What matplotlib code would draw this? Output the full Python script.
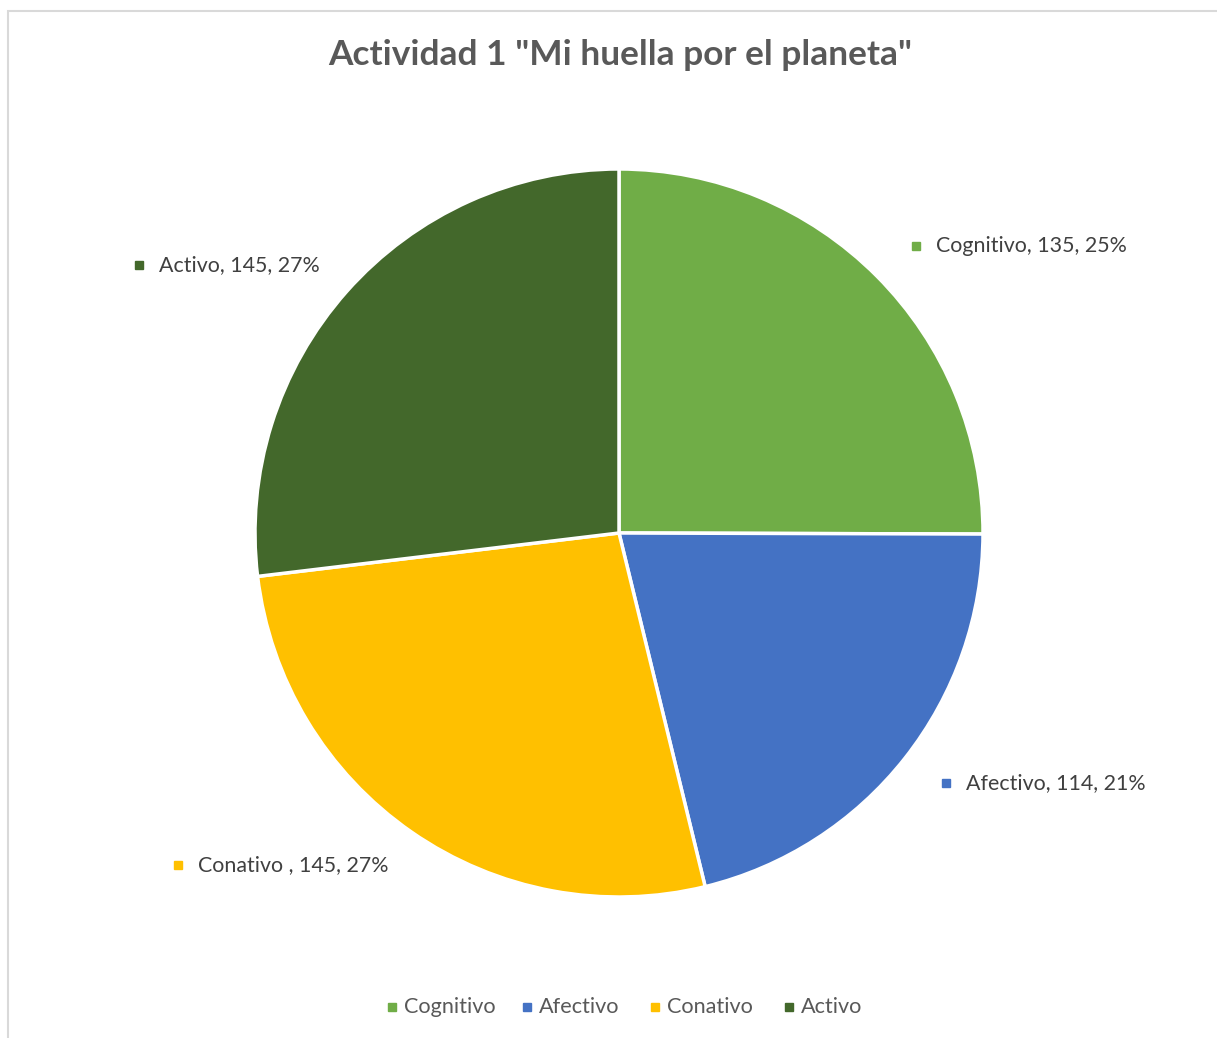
import matplotlib
matplotlib.use("Agg")
import matplotlib.pyplot as plt
from matplotlib.patches import Rectangle

categories = ["Cognitivo", "Afectivo", "Conativo", "Activo"]
label_names = ["Cognitivo", "Afectivo", "Conativo ", "Activo"]
values = [135, 114, 145, 145]
colors = ["#70AD47", "#4472C4", "#FFC000", "#43682B"]
title = 'Actividad 1 "Mi huella por el planeta"'

W, H = 1217, 1038
fig = plt.figure(figsize=(W / 100, H / 100), dpi=100)
plt.rcParams['font.family'] = ['Lato', 'DejaVu Sans']

def fx(px):
    return px / W

def fy(py):
    return 1 - py / H

# chart border (left and top visible)
fig.patches.append(Rectangle((fx(8), fy(1045)), 1.2, fy(11) - fy(1045),
                             transform=fig.transFigure, fill=False,
                             edgecolor="#D9D9D9", linewidth=1.5))

cx, cy, r = 619, 533, 364
ax = fig.add_axes([fx(cx - r), fy(cy + r), 2 * r / W, 2 * r / H])
ax.pie(values, colors=colors, startangle=90, counterclock=False, radius=1,
       wedgeprops=dict(edgecolor="white", linewidth=2.5))
ax.set_xlim(-1, 1)
ax.set_ylim(-1, 1)
ax.set_aspect("equal")
ax.axis("off")

fig.text(fx(620), fy(55), title, ha="center", va="center", fontsize=25.4,
         fontweight="bold", color="#595959")

total = sum(values)
label_pos = [(916, 246), (946, 783), (178, 865), (139, 265)]
for name, v, c, (mx, my) in zip(label_names, values, colors, label_pos):
    pct = round(100 * v / total)
    fig.patches.append(Rectangle((fx(mx - 4), fy(my + 4)), 8 / W, 8 / H,
                                 transform=fig.transFigure, color=c))
    fig.text(fx(mx + 20), fy(my), f"{name}, {v}, {pct}%", ha="left",
             va="center", fontsize=15.4, color="#404040")

leg_pos = [392, 527, 655, 789]
for name, c, mx in zip(categories, colors, leg_pos):
    fig.patches.append(Rectangle((fx(mx - 4), fy(1007 + 4)), 8 / W, 8 / H,
                                 transform=fig.transFigure, color=c))
    fig.text(fx(mx + 12), fy(1007), name, ha="left", va="center",
             fontsize=15.6, color="#595959")

fig.savefig("out.png", dpi=100)
